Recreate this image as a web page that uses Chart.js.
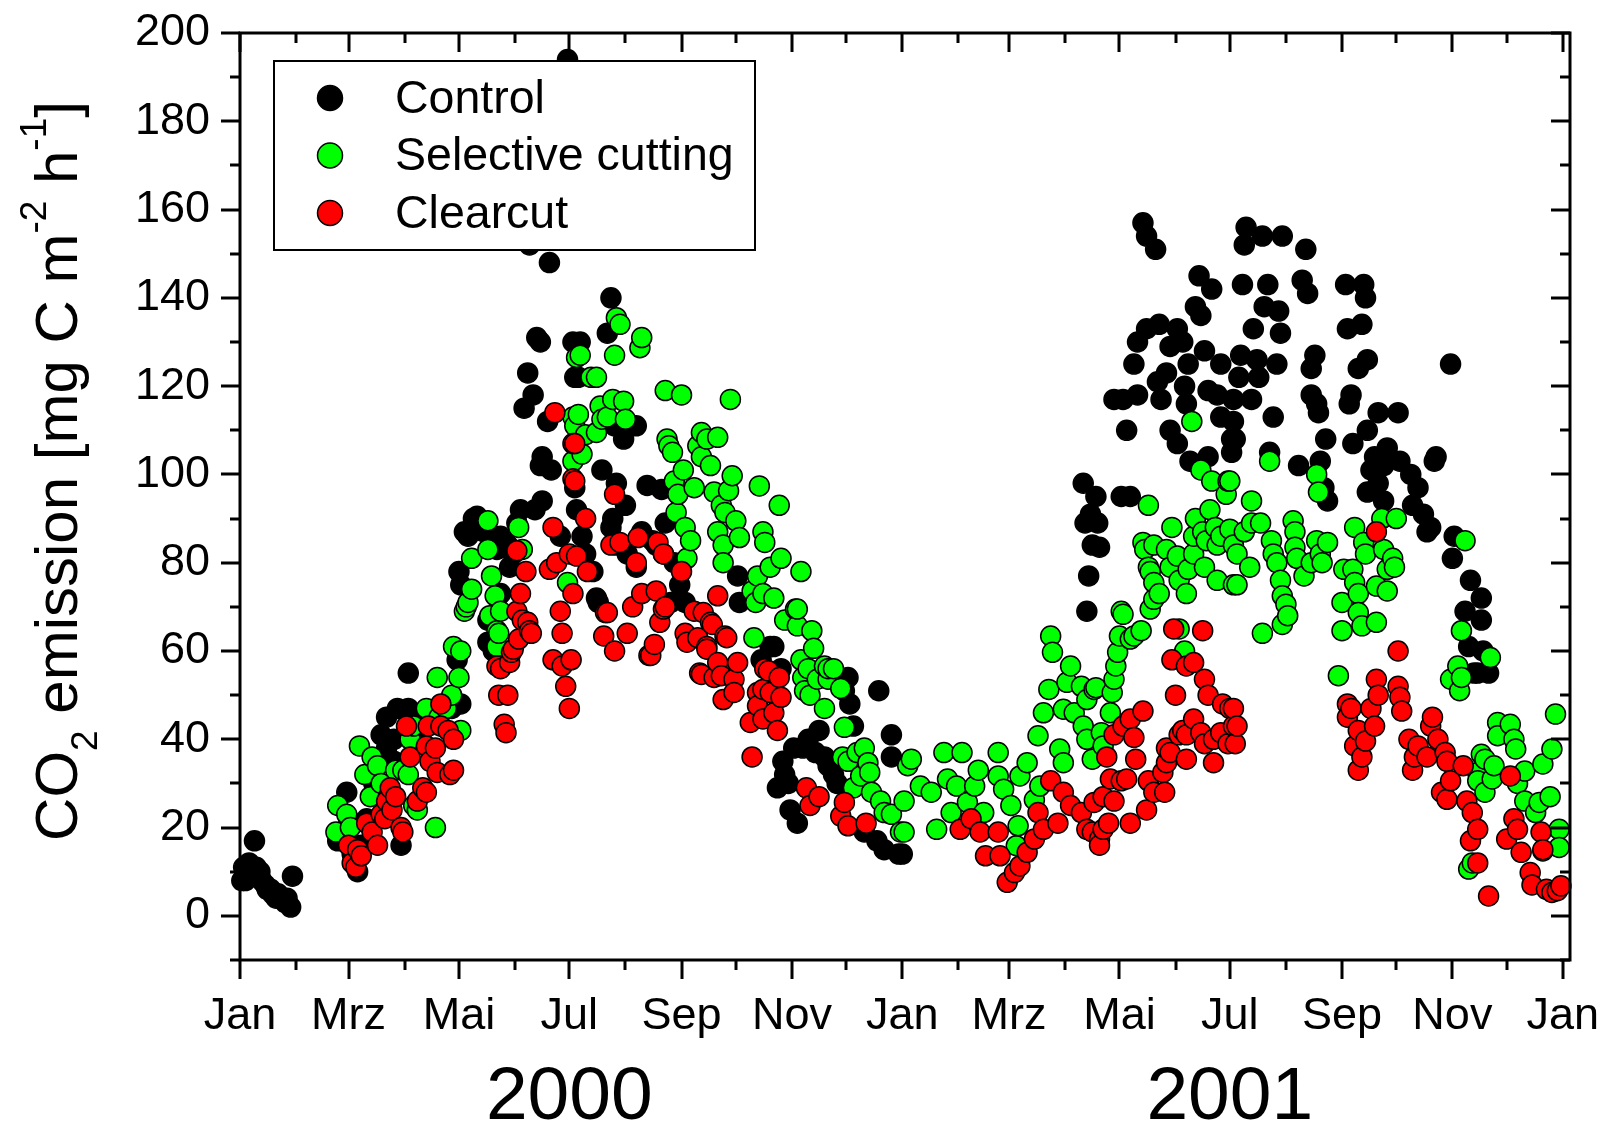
<!DOCTYPE html>
<html>
<head>
<meta charset="utf-8">
<script src="https://cdn.jsdelivr.net/npm/chart.js@4.4.1/dist/chart.umd.min.js"></script>
<style>
  html, body { margin: 0; padding: 0; background: #fff; }
</style>
</head>
<body>
<canvas id="co2" width="1606" height="1128"></canvas>
<script>
// x = days since 1 Jan 2000, y = CO2 emission (mg C m-2 h-1)
const controlPts = [
  [1,8],[2,11],[3,8],[4,10],[5,12],[6,11],[8,17],[9,11],[11,10],[12,8],[14,7],[15,6],[17,6],[18,5],
  [20,4],[21,5],[23,4],[25,3],[26,4],[28,2],[29,9],
  [54,17],[59,28],[60,22],[62,14],[65,10],[67,16],[70,22],[74,30],[78,41],[81,45],[81,38],[85,40],
  [85,35],[87,47],[89,16],[93,47],[93,55],[97,44],[101,42],[104,46],[108,44],[112,47],[117,47],[120,58],[122,48],
  [121,78],[122,75],[124,87],[126,86],[129,90],[131,90.5],[132,89],[135,87],[137,67],[137,62],[139,86],
  [140,60],[142,83],[144,86],[144,73],[148,84],[149,79],[151,82],
  [153,89],[155,92],[157,115],[159,123],[160,152],[162,118],[163,92],[164,131],[166,130],[166,102],
  [167,104],[167,94],[170,112],[171,148],[172,101],
  [177,86],[181,194],[184,130],[185,122],[185,97],[186,92],[188,130],[187,122],[189,86],[191,82],
  [195,78],[197,72],[198,71],[200,101],[203,132],[203,112],[205,140],[205,88],[206,90],[207,111],
  [208,98],[208,84],[212,108],[213,93],[214,82],[219,79],[219,111],
  [222,87],[225,97.5],[228,85],[230,84],[233,96.6],[235,89],[238,71],[240,80],[243,75],[246,71],
  [275,77],[276,71],[288,58],[293,61],[295,61],[299,56],[297,29],[300,35],[301,32],[303,30],[304,24],
  [306,38],[308,21],[311,38],[314,40],[318,37],[320,42],[323,36],[325,34],[328,32],[330,30],
  [334,51],[336,54],[337,48],[339,43],[345,19],[352,17],[353,51],[356,15],[360,41],[360,36],[364,14],[366,14],
  [466,98],[468,69],[469,77],[467,89],[470,91],[471,84],[473,95],[474,89],[475,83.5],
  [483,117],[487,95],[488,117],[490,110],[492,95],[494,125],[496,118],[496,130],[499,157],[501,154],
  [501,133],[506,151],[507,121],[508,134],[509,117],[512,123],[514,129],[514,110],[518,133],[518,107],
  [521,130],[522,120],[523,116],[524,125],[525,103],[528,138],[530,145],[531,136],[533,128],[535,104],
  [535,119],[537,142],[540,118],[542,125],[542,113],[548,108],[548,105],
  [549,117],[549,112],[550,108],[552,122],[553,127],[554,143],[555,152],[556,156],[559,117],[560,133],
  [562,126],[563,122],[565,154],[566,138],[568,143],[569,105],[571,113],[573,125],[574,137],[575,132],
  [576,154],[585,102],[587,144],[589,151],[590,141],[592,124],[592,118],[594,127],[595,116],[596,114],
  [597,103],[599,97],[600,108],[601,94],[611,143],[612,133],[613,116],[614,118],[615,107],[618,124],
  [620,134],[621,143],[622,140],[623,126],[623,110],[623,96],[625,101],[627,104],[629,114],[629,98],
  [632,102],[632,94],[634,106],[640,114],[641,103],[647,100],[648,93],[651,97],[654,91],[656,87],
  [658,88],[660,103],[661,104],[669,125],[670,81],[671,86],[677,69],[679,61],[680,76],[682,55],[684,55],
  [686,72],[686,67],[687,60],[690,55]
];

const selectivePts = [
  [53,19],[54,25],[59,23],[61,20],[66,38.5],[69,32],[72,27],[73,36],[76,34],[78,30],[82,27],[86,33],
  [90,33],[93,32],[94,40],[96,43],[96,25],[98,24],[103,47],[108,20],[109,54],[110,45],[114,47],[117,50],
  [118,61],[121,54],[122,60],[122,42],
  [124,69],[125,70],[126,71],[128,74],[128,81],[137,89.5],[137,83],[138,68],[139,77],[141,72.5],
  [142,61],[142,64.6],[143,64],[144,69],[154,88],[156,83],
  [181,75.5],[184,113],[184,103],[185,111],[186,126.5],[187,113.6],[188,127],[189,104.6],[191,109],
  [194,122],[197,122],[197,109.5],[199,115.5],[200,112.5],[203,113],[206,117],[207,127],[208,135.5],
  [210,134],[212,116.6],[213,112.5],[221,128.7],[222,131],
  [234,82],[235,119],[236,108],[237,106.5],[239,105],[240,98.5],[241,91.4],[242,95.5],[244,118],
  [245,101],[246,88],[247,81],[249,85],[251,97],[253,106.5],[255,104],[255,109.5],[258,108],[260,102],
  [262,96],[264,108.4],[264,87],[266,93],[267,84],[267,80],[268,91.4],[270,96.3],[271,117],[272,99.7],
  [274,89.5],[276,85.7],
  [283,73.6],[284,63],[285,71],[286,77],[287,97.4],[289,87],[290,84.6],[289,73],[293,79],[295,72],
  [298,93],[299,81],[301,67],[307,69.5],[308,65.7],[308,69.5],[310,78],[310,58],[311,54],[312,51],
  [314,56],[315,50],[316,64.6],[317,60.6],[319,53.6],[323,56.6],[323,47],[325,53.6],[325,56],[328,56],
  [332,51.5],[333,36],[334,42.7],[336,35],[339,29],[341,37],[343,31.7],[345,38],[347,34.7],[348,32.5],
  [349,28],[354,26],[356,23.4],[360,23],[365,19],[367,19],[367,26],[369,34],[371,35.5],[376,29.4],
  [382,28],[385,19.6],[389,37],[391,31],[393,23.4],[396,29.4],[399,37],[402,25.7],[406,29.4],[408,33],
  [411,23.4],[419,37],[419,31.7],[422,28.7],[426,25],[429,15.9],[430,20.4],[431,31.7],[435,34.7],
  [439,26.3],[441,40.8],[442,29.4],[444,46],[447,51.3],[448,63.4],[449,59.7],[453,37.8],[455,34.7],
  [455,46.8],[457,52.9],[459,56.6],[461,46],[465,52],[466,43],[468,49],[468,40],[471,35.5],[472,51.3],
  [473,51.7],[476,41.5],[477,38.5],[481,46],[482,50.6],[483,53.6],[484,56.6],[485,59.7],[486,63.4],
  [487,69],[488,68.3],[492,62.7],[494,63.4],[498,64.6],
  [499,84.6],[500,83],[502,93],[502,79],[503,69.5],[503,78],[505,84],[505,75.5],[505,71.7],[508,73],
  [512,83],[514,79],[515,88],[518,81.5],[519,76],[519,65],[522,60],[523,73],[524,78.5],[526,112],
  [527,82],[527,86],[528,90],[531,101],[532,87],[533,79],[534,85],[536,92],[537,98.5],[539,88],
  [540,84],[540,76],[542,86],[545,95.5],[546,98.5],[547,87.6],[547,98.5],[549,84],[549,75],[551,82],
  [551,75],[555,87],[558,79],[559,89],[559,94],[564,89],[565,64],[569,103],[570,85],[571,82],[573,80],
  [575,76],[576,72.5],[576,66],[578,70.6],[579,68],[582,89.5],[583,87],[583,83.5],[584,81],[588,77],
  [592,80],[595,85],[595,100],[596,96],[597,82],[598,80],[601,84.6],[607,54.4],[609,71],[609,64.6],
  [610,78.5],[615,78.5],[616,88],[616,75.5],[618,73],[618,68.7],[620,65.7],[621,84.6],[622,82],
  [628,66.5],[628,74.7],[631,90],[632,83],[634,78.5],[634,73.6],[637,81],[638,79],[639,90],
  [669,53.6],[673,56.6],[674,51],[675,54],[675,64.6],[677,85],[679,10.6],[681,12],[684,32.5],[684,30.6],
  [686,36.6],[688,35.5],[688,28],[691,58.5],[692,31],[693,34],[695,43.8],[695,40.8],[702,43.4],[704,40],
  [705,37.8],[706,30],[710,32.8],[710,26],[716,23.4],[718,25.7],[720,34.4],[720,14.7],[724,27],[725,37.8],
  [727,45.7],[729,19.6],[729,15.5]
];

const clearcutPts = [
  [60,16],[62,12],[64,11],[65,15],[67,13.6],[70,21],[73,19],[76,16],[78,23],[80,22],[81,26],[83,29],
  [84,24],[86,27],[89,20],[90,19],[92,43],[94,36],[98,26],[101,29],[103,28],[103,38.5],[104,43],[105,35],
  [108,38],[109,32.5],[111,48],[111,43],[115,42],[116,32],[118,40],[118,33],
  [142,56.6],[143,50],[144,56],[146,43.4],[147,41.5],[148,50],[149,57.4],[150,59.7],[151,60.4],[153,69],
  [153,82.7],[154,62.7],[155,73],[156,67],[158,78],[159,66.5],[160,64.6],[161,64],
  [171,78.5],[173,88],[173,58],[174,114],[175,80],[177,69],[178,64],[178,56.6],[180,52],[182,47],
  [182,82],[183,58],[184,107],[184,99],[184,73],[185,107],[185,98.5],[186,81.5],[191,90],[192,78],
  [201,63.4],[202,68.7],[203,68.7],[205,84],[207,95.5],[207,60],[210,84.6],[214,64],[217,70],[219,80],
  [220,85.7],[222,73],[226,59],[227,59],[229,61.5],[230,73.6],[231,84.6],[232,66.5],[234,82],[234,69.5],
  [235,70],[244,78],
  [246,64],[247,62],[251,69],[253,63],[254,55],[255,54.7],[256,68.7],[258,61],[258,60.4],[260,66.5],
  [261,66],[262,54],[264,72.5],[264,57.4],[266,54.4],[267,49],[268,63.4],[269,63],[273,53.6],[273,50.6],
  [275,57.4],[282,43.8],[283,36],[286,50.6],[286,47.6],[289,51.3],[289,44.6],[290,56],[292,55.5],
  [293,50.6],[295,46],[297,42],[298,54],[299,49.5],[313,29],[315,25],[320,27],[332,22.6],[334,25.7],
  [336,20.4],[346,21],
  [398,19.6],[404,22],[409,19],[412,13.6],[419,19],[420,13.6],[424,7.6],[428,9.8],[431,11.3],[435,14.4],
  [439,17.4],[441,23.4],[444,19.6],[448,30.6],[452,21],[455,28],[459,25],[465,23.4],[468,19.6],[471,19],
  [472,25.7],[475,17.4],[475,16],[477,27],[477,19.6],[479,36],[480,21],[481,31],[483,26],[483,41],
  [487,30.6],[488,43],[490,31],[492,44.6],[492,21],[494,40.4],[495,35.5],[499,46.4],[501,24],[502,30.6],
  [505,28],[510,32.5],[511,28],[512,34.7],[512,38],[514,37],[515,58],[516,65],[517,50],[519,41],
  [521,42],[523,56.6],[523,41],[523,35.5],[527,57.4],[527,44.6],[531,41.5],[532,64.6],[533,53.6],
  [533,39],[535,50],[538,40],[538,34.7],[542,41.5],[543,48],[546,39],[547,47],[549,43],[549,47],
  [550,39],[551,43],
  [612,48],[612,45],[614,47],[616,38.5],[618,42],[618,33],[620,36],[622,39.6],[625,47],[627,43],
  [628,87],[628,53.6],[629,50],[640,60],[640,52],[641,49.5],[642,46.4],[646,40],[648,33],[649,36],
  [651,38.5],[656,36],[658,43],[659,45],[662,40],[664,28],[666,37],[667,35],[667,26.4],[669,30.6],
  [676,34],[678,26],[681,23.4],[680,17],[684,19.6],[684,12],[690,4.5],[700,17.4],[702,31.7],[704,22],
  [706,19.6],[708,14.4],[713,9.8],[714,7],[719,19],[720,15],[722,6],[725,5.3],[728,5.7],[730,6.8]
];

const seriesNames = ["Control", "Selective cutting", "Clearcut"];
const seriesColors = ["#000000", "#00ff00", "#ff0000"];
const monthNames = ["Jan", "Mrz", "Mai", "Jul", "Sep", "Nov"];
const yearLabels = ["2000", "2001"];

const FONT = '"Liberation Sans", Arial, Helvetica, sans-serif';

// month boundaries from Jan 2000 to Jan 2002, in days
const monthStarts = [];
for (let m = 0; m <= 24; m++) {
  monthStarts.push((Date.UTC(2000, m, 1) - Date.UTC(2000, 0, 1)) / 86400000);
}
const yTicks = [];
for (let v = -10; v <= 200; v += 10) yTicks.push(v);

const frame = {
  id: "frame",
  afterDraw(chart) {
    const { ctx, chartArea: a, scales: { x, y } } = chart;
    ctx.save();
    ctx.strokeStyle = "#000";
    ctx.lineWidth = 3;
    ctx.strokeRect(a.left, a.top, a.right - a.left, a.bottom - a.top);

    ctx.beginPath();
    x.ticks.forEach((t, i) => {
      const px = Math.round(x.getPixelForValue(t.value));
      const len = i % 2 === 0 ? 19 : 10;
      ctx.moveTo(px, a.bottom); ctx.lineTo(px, a.bottom + len);
      ctx.moveTo(px, a.top); ctx.lineTo(px, a.top + len);
    });
    y.ticks.forEach((t) => {
      const py = Math.round(y.getPixelForValue(t.value));
      const len = t.value % 20 === 0 ? 19 : 10;
      ctx.moveTo(a.left, py); ctx.lineTo(a.left - len, py);
      ctx.moveTo(a.right, py); ctx.lineTo(a.right - len, py);
    });
    ctx.stroke();

    // legend
    const lx = 274, ly = 61, lw = 481, lh = 189;
    ctx.fillStyle = "#fff";
    ctx.fillRect(lx, ly, lw, lh);
    ctx.lineWidth = 2;
    ctx.strokeRect(lx, ly, lw, lh);
    ctx.font = "46.5px " + FONT;
    ctx.textBaseline = "middle";
    ctx.textAlign = "left";
    seriesNames.forEach((name, i) => {
      const cy = 98 + i * 57.5;
      ctx.beginPath();
      ctx.arc(330, cy, 12.5, 0, Math.PI * 2);
      ctx.fillStyle = seriesColors[i];
      ctx.fill();
      ctx.lineWidth = 1.5;
      ctx.strokeStyle = "#000";
      ctx.stroke();
      ctx.fillStyle = "#000";
      ctx.fillText(name, 395, cy + 2);
    });

    // year labels under the month ticks
    ctx.font = "75px " + FONT;
    ctx.textAlign = "center";
    yearLabels.forEach((yr) => {
      const mid = (Date.UTC(+yr, 6, 1) - Date.UTC(2000, 0, 1)) / 86400000;
      ctx.fillText(yr, x.getPixelForValue(mid), 1098);
    });

    // y axis title with sub/superscripts
    const parts = [
      { t: "CO", s: 60, dy: 0 },
      { t: "2", s: 37, dy: 20 },
      { t: " emission [mg C m", s: 60, dy: 0 },
      { t: "-2", s: 37, dy: -31 },
      { t: " h", s: 60, dy: 0 },
      { t: "-1", s: 37, dy: -31 },
      { t: "]", s: 60, dy: 0 }
    ];
    let total = 0;
    parts.forEach((p) => { ctx.font = p.s + "px " + FONT; p.w = ctx.measureText(p.t).width; total += p.w; });
    ctx.translate(77, 471);
    ctx.rotate(-Math.PI / 2);
    ctx.textAlign = "left";
    ctx.textBaseline = "alphabetic";
    let cx = -total / 2;
    parts.forEach((p) => {
      ctx.font = p.s + "px " + FONT;
      ctx.fillText(p.t, cx, p.dy);
      cx += p.w;
    });
    ctx.restore();
  }
};

const pointStyle = (i) => ({
  pointRadius: 10,
  pointHoverRadius: 10,
  pointBorderWidth: 1.5,
  pointBackgroundColor: seriesColors[i],
  pointBorderColor: "#000",
  showLine: false,
  clip: false
});

// invisible tick marks only reserve the gap between axis and labels
const hiddenGrid = (len) => ({
  display: true,
  drawOnChartArea: false,
  drawTicks: true,
  tickLength: len,
  tickColor: "rgba(0,0,0,0)"
});

new Chart(document.getElementById("co2"), {
  type: "scatter",
  data: {
    datasets: [
      { label: seriesNames[0], data: controlPts, order: 3, ...pointStyle(0) },
      { label: seriesNames[1], data: selectivePts, order: 2, ...pointStyle(1) },
      { label: seriesNames[2], data: clearcutPts, order: 1, ...pointStyle(2) }
    ]
  },
  options: {
    responsive: false,
    animation: false,
    layout: { padding: { top: 33, right: 36, left: 0, bottom: 0 } },
    plugins: {
      legend: { display: false },
      tooltip: { enabled: false }
    },
    scales: {
      x: {
        type: "linear",
        min: 0,
        max: 735,
        grid: hiddenGrid(30),
        border: { display: false },
        afterBuildTicks: (s) => { s.ticks = monthStarts.map((v) => ({ value: v })); },
        afterFit: (s) => { s.height = 168; },
        ticks: {
          autoSkip: false,
          maxRotation: 0,
          padding: 0,
          color: "#000",
          font: { family: FONT, size: 45 },
          callback: (v, i) => (i % 2 === 0 ? monthNames[(i / 2) % 6] : "")
        }
      },
      y: {
        min: -10,
        max: 200,
        grid: hiddenGrid(30),
        border: { display: false },
        afterBuildTicks: (s) => { s.ticks = yTicks.map((v) => ({ value: v })); },
        afterFit: (s) => { s.width = 240; },
        ticks: {
          autoSkip: false,
          padding: 0,
          color: "#000",
          font: { family: FONT, size: 45 },
          callback: (v) => (v >= 0 && v % 20 === 0 ? String(v) : "")
        }
      }
    }
  },
  plugins: [frame]
});
</script>
</body>
</html>
